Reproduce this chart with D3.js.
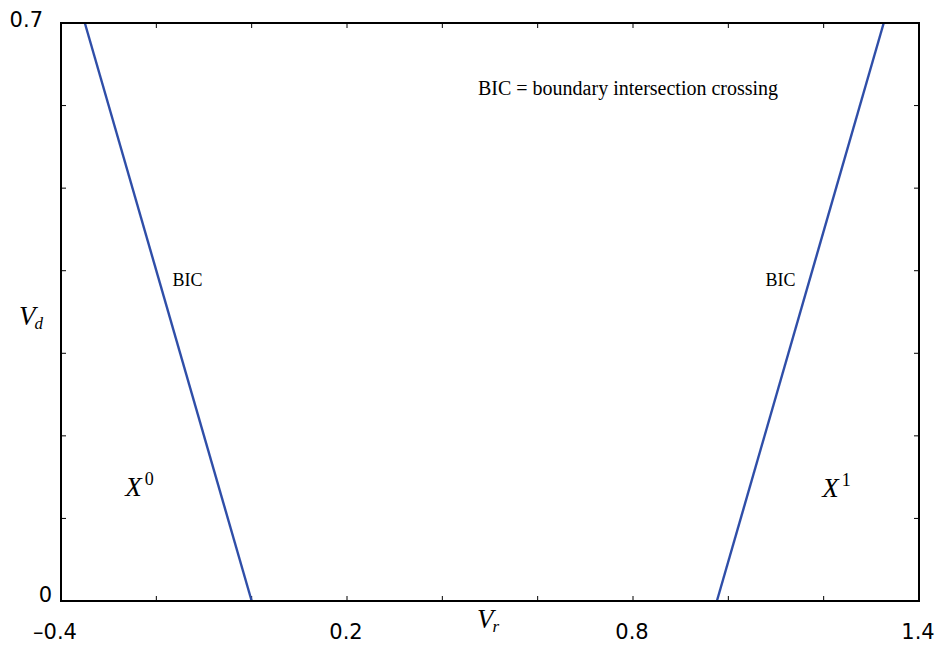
<!DOCTYPE html>
<html>
<head>
<meta charset="utf-8">
<script src="https://cdn.jsdelivr.net/npm/d3@7"></script>
<style>
  body { margin: 0; background: #fff; }
  svg { display: block; }
  .tick-label { font-family: "DejaVu Sans", Arial, sans-serif; font-size: 21px; fill: #000; }
  .note { font-family: "Liberation Serif", "Times New Roman", serif; fill: #000; }
  .math { font-family: "Liberation Serif", "DejaVu Serif", serif; font-style: italic; fill: #000; }
</style>
</head>
<body>
<div id="chart"></div>
<script>
// axis ranges and ticks
const xDomain = [-0.4, 1.4];
const yDomain = [0, 0.7];
const xTicks = [-0.4, -0.2, 0, 0.2, 0.4, 0.6, 0.8, 1.0, 1.2, 1.4];
const yTicks = [0, 0.1, 0.2, 0.3, 0.4, 0.5, 0.6, 0.7];
const xTickLabels = [-0.4, 0.2, 0.8, 1.4];
const yTickLabels = [0, 0.7];

// the two boundary lines, [Vr, Vd]
const leftBoundary = [[-0.35, 0.7], [0.0, 0]];
const rightBoundary = [[0.976, 0], [1.326, 0.7]];

const width = 938, height = 646;
const margin = { top: 23, right: 19, bottom: 45, left: 61 };

const svg = d3.select("#chart").append("svg")
  .attr("width", width).attr("height", height);

const x = d3.scaleLinear().domain(xDomain).range([margin.left, width - margin.right]);
const y = d3.scaleLinear().domain(yDomain).range([height - margin.bottom, margin.top]);

const fmt = d => d < 0 ? "\u2013" + Math.abs(d) : String(d);

// ticks on all four sides, pointing inward
const tickLen = 5;
const g = svg.append("g").attr("stroke", "#000").attr("stroke-width", 1);
xTicks.forEach(t => {
  g.append("line").attr("x1", x(t)).attr("x2", x(t)).attr("y1", y(0)).attr("y2", y(0) - tickLen);
  g.append("line").attr("x1", x(t)).attr("x2", x(t)).attr("y1", y(0.7)).attr("y2", y(0.7) + tickLen);
});
yTicks.forEach(t => {
  g.append("line").attr("x1", x(-0.4)).attr("x2", x(-0.4) + tickLen).attr("y1", y(t)).attr("y2", y(t));
  g.append("line").attr("x1", x(1.4)).attr("x2", x(1.4) - tickLen).attr("y1", y(t)).attr("y2", y(t));
});

// boundary lines
const line = d3.line().x(d => x(d[0])).y(d => y(d[1]));
[leftBoundary, rightBoundary].forEach(b => {
  svg.append("path").attr("d", line(b))
    .attr("fill", "none").attr("stroke", "#2f4ea8").attr("stroke-width", 2.4);
});

// frame drawn on top
svg.append("rect")
  .attr("x", x(-0.4)).attr("y", y(0.7))
  .attr("width", x(1.4) - x(-0.4)).attr("height", y(0) - y(0.7))
  .attr("fill", "none").attr("stroke", "#000").attr("stroke-width", 2);

// tick labels
svg.selectAll(".xl").data(xTickLabels).enter().append("text")
  .attr("class", "tick-label")
  .attr("x", d => x(d) + (d < 0 ? -6 : -1)).attr("y", y(0) + 38)
  .attr("text-anchor", "middle")
  .text(fmt);

// the 0.7 label sits a bit further left and lower than the 0 one in the original
svg.selectAll(".yl").data(yTickLabels).enter().append("text")
  .attr("class", "tick-label")
  .attr("x", d => x(-0.4) - (d === 0 ? 9 : 18)).attr("y", d => y(d) + (d === 0 ? 1 : 4))
  .attr("text-anchor", "end")
  .text(fmt);

// axis titles
const vr = svg.append("text").attr("class", "math").attr("font-size", 27)
  .attr("x", 477).attr("y", y(0) + 27);
vr.append("tspan").text("V");
vr.append("tspan").attr("font-size", 17).attr("dy", 4).attr("dx", -1).text("r");

const vd = svg.append("text").attr("class", "math").attr("font-size", 27)
  .attr("x", 19).attr("y", 325);
vd.append("tspan").text("V");
vd.append("tspan").attr("font-size", 17).attr("dy", 4).attr("dx", -1).text("d");

// region labels
function regionLabel(px, py, sup) {
  const t = svg.append("text").attr("class", "math").attr("font-size", 27)
    .attr("x", x(px)).attr("y", y(py));
  t.append("tspan").text("X");
  t.append("tspan").attr("font-size", 18).attr("dy", -11).attr("dx", 3)
    .attr("font-style", "normal").text(sup);
}
regionLabel(-0.265, 0.127, "0");
regionLabel(1.197, 0.126, "1");

// notes
svg.append("text").attr("class", "note").attr("font-size", 18)
  .attr("x", x(-0.166)).attr("y", 286).text("BIC");
svg.append("text").attr("class", "note").attr("font-size", 18)
  .attr("x", x(1.078)).attr("y", 286).text("BIC");
svg.append("text").attr("class", "note").attr("font-size", 20)
  .attr("x", 478).attr("y", 95).text("BIC = boundary intersection crossing");
</script>
</body>
</html>
